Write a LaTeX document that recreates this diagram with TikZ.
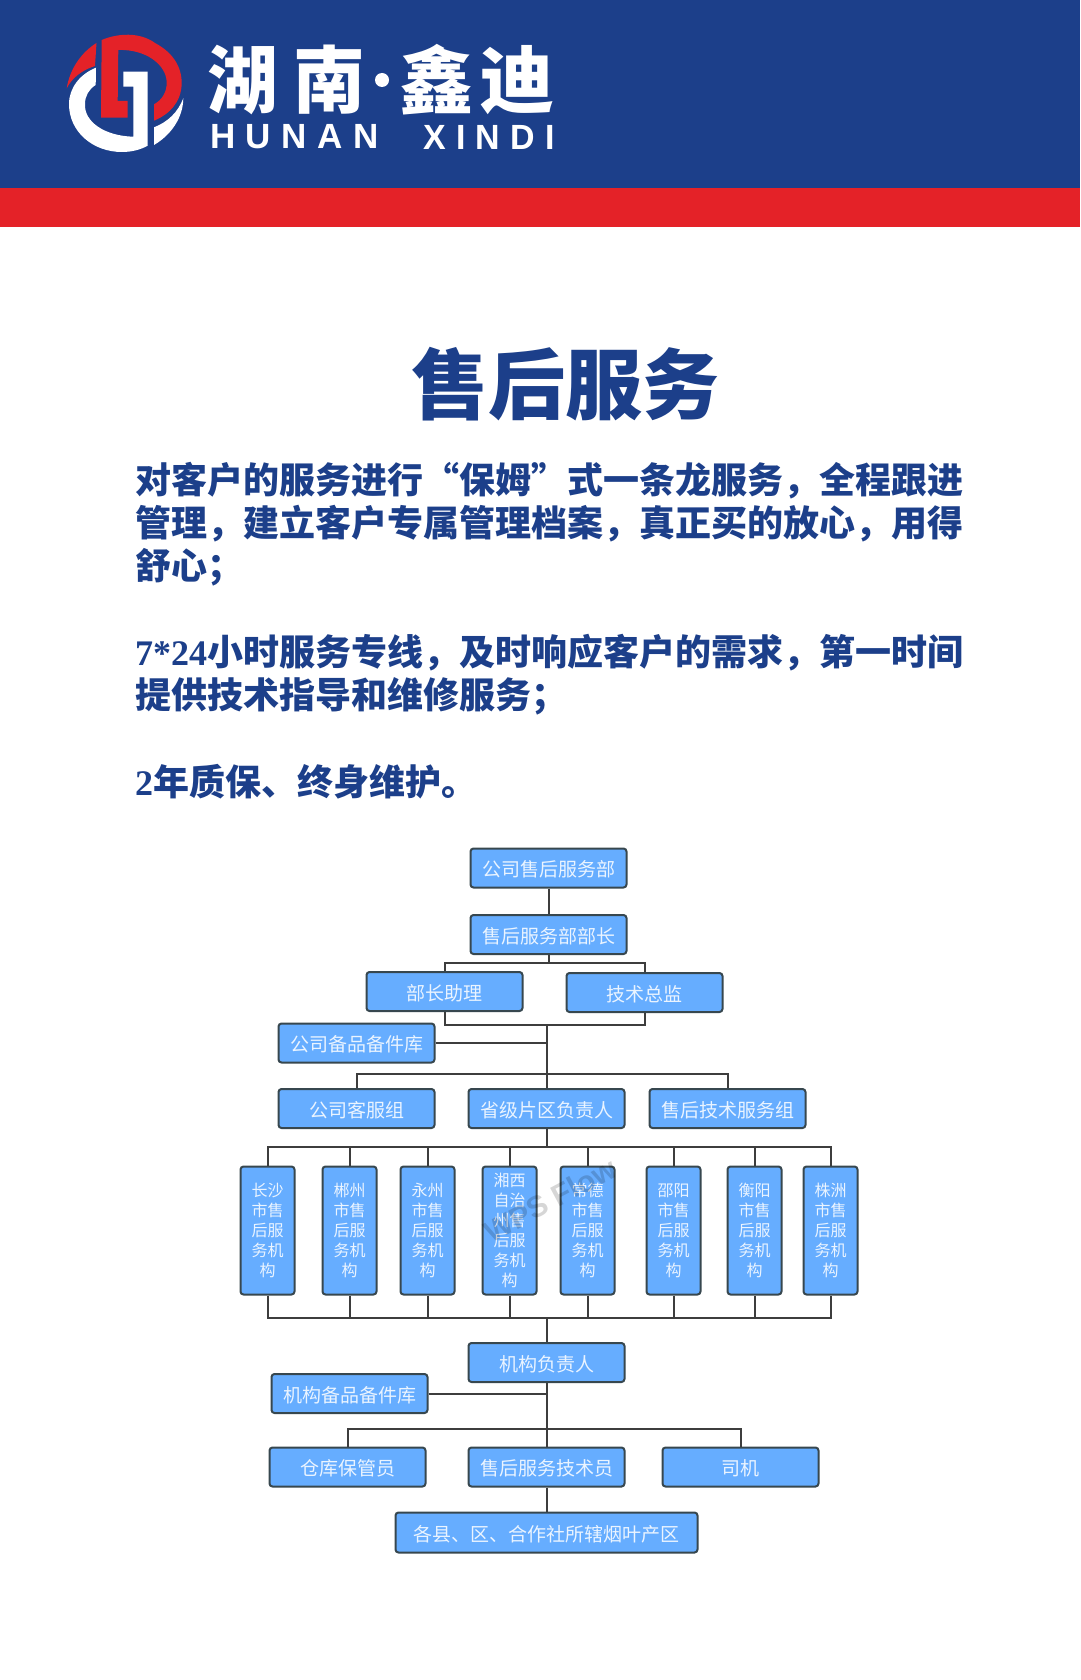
\documentclass[tikz,border=0pt]{standalone}
\usepackage{fontspec}
\newfontfamily\cjk{Noto Sans CJK SC}
\newfontfamily\latinb{Liberation Serif}
\newfontfamily\logolat[LetterSpace=30]{Liberation Sans}
\definecolor{navy}{HTML}{1C3F8A}
\definecolor{bandred}{HTML}{E42228}
\definecolor{boxfill}{HTML}{66ADFF}
\definecolor{boxline}{HTML}{37474F}
\definecolor{linkc}{HTML}{3D3D3D}
\definecolor{boxtext}{HTML}{EAF4FF}
\tikzset{
  orgbase/.style={draw=boxline,line width=2pt,fill=boxfill,rounded corners=3pt,text=boxtext,inner sep=0pt,
    minimum width=156pt,minimum height=39pt},
  orgbox/.style={orgbase,text height=17.4pt,text depth=0pt,font=\cjk\fontsize{19}{22}\selectfont},
  tallbox/.style={orgbase,minimum width=54pt,minimum height=128pt,align=center,font=\cjk\fontsize{16}{20}\selectfont},
  link/.style={draw=linkc,line width=2pt},
  bodyline/.style={anchor=west,inner sep=0pt,text=navy,font=\cjk\bfseries\fontsize{36}{43}\selectfont},
  brandtxt/.style={inner sep=0pt,text=white,font=\cjk\bfseries\fontsize{74}{74}\selectfont},
  brandlat/.style={inner sep=0pt,text=white,anchor=west,font=\logolat\bfseries\fontsize{35}{35}\selectfont}
}
\begin{document}
\begin{tikzpicture}[x=1pt,y=-1pt]
\useasboundingbox (0,0) rectangle (1080,1680);
\fill[white] (0,0) rectangle (1080,1680);
\fill[navy] (0,0) rectangle (1080,188);
\fill[bandred] (0,188) rectangle (1080,227);
% logo
\fill[bandred] (66.7,88.3) .. controls (70,68) and (82,52) .. (96.5,43) -- (95,66) .. controls (82,70) and (72,78) .. (66.7,88.3) -- cycle;
\fill[bandred] (101.7,40) .. controls (118,33) and (140,32) .. (155,43) .. controls (172,52) and (182,66) .. (181.7,84) .. controls (181,102) and (170,114) .. (154,120.7) -- (154,104.3) .. controls (162,100) and (167,92) .. (166.7,82) .. controls (166,64) and (145,49) .. (118.3,50) -- (117.7,101) -- (127.7,101) -- (127.7,117.7) -- (101,117.7) -- cycle;
\fill[white] (96,67.7) .. controls (80,74) and (69,88) .. (69,104) .. controls (69,132) and (93,152) .. (122,152) .. controls (131,152) and (140,150) .. (147.7,145.7) -- (147.7,71.7) -- (123.3,71.7) -- (123.3,86.7) -- (133.3,86.7) -- (133.3,136.7) .. controls (105,136) and (84,122) .. (85,104) .. controls (85,96) and (89,89) .. (95.7,85) -- cycle;
\fill[white] (154,127.3) .. controls (168,122) and (178,112) .. (183.3,98.3) .. controls (183,118) and (171,135) .. (154,145) -- cycle;
% brand
\node[brandtxt,xscale=.95] (b1) at (243,80) {湖};
\node[brandtxt,xscale=.97] (b2) at (329,80) {南};
\fill[white] (382,80) circle (7);
\node[brandtxt,xscale=1] (b3) at (436.5,80) {鑫};
\node[brandtxt,xscale=1.02] (b4) at (517,80) {迪};
\node[brandlat] (h1) at (210,137) {HUNAN};
\node[brandlat,xscale=.97] (h2) at (423,137) {XINDI};
% title and text
\node[inner sep=0pt,text=navy,font=\cjk\bfseries\fontsize{77}{80}\selectfont] (title) at (565.5,384) {售后服务};
\node[bodyline] (l1) at (135,480.5) {对客户的服务进行“保姆”式一条龙服务，全程跟进};
\node[bodyline] (l2) at (135,524) {管理，建立客户专属管理档案，真正买的放心，用得};
\node[bodyline] (l3) at (135,567) {舒心；};
\node[bodyline] (l4) at (135,653) {{\latinb 7*24}小时服务专线，及时响应客户的需求，第一时间};
\node[bodyline] (l5) at (135,696) {提供技术指导和维修服务；};
\node[bodyline] (l6) at (135,782) {{\latinb 2}年质保、终身维护。};
% org chart
\node[orgbox] (dept) at (548.5,868) {公司售后服务部};
\node[orgbox] (head) at (548.5,934.5) {售后服务部部长};
\node[orgbox] (asst) at (444.5,991.5) {部长助理};
\node[orgbox] (tech) at (644.5,992.5) {技术总监};
\node[orgbox] (spare) at (356.5,1043) {公司备品备件库};
\node[orgbox] (svc) at (356.5,1108.5) {公司客服组};
\node[orgbox] (prov) at (546.5,1108.5) {省级片区负责人};
\node[orgbox] (tsvc) at (727.5,1108.5) {售后技术服务组};
\node[tallbox] (c1) at (267.5,1230.5) {长沙\\市售\\后服\\务机\\构};
\node[tallbox] (c2) at (349.5,1230.5) {郴州\\市售\\后服\\务机\\构};
\node[tallbox] (c3) at (427.5,1230.5) {永州\\市售\\后服\\务机\\构};
\node[tallbox] (c4) at (509.5,1230.5) {湘西\\自治\\州售\\后服\\务机\\构};
\node[tallbox] (c5) at (587.5,1230.5) {常德\\市售\\后服\\务机\\构};
\node[tallbox] (c6) at (673.5,1230.5) {邵阳\\市售\\后服\\务机\\构};
\node[tallbox] (c7) at (754.5,1230.5) {衡阳\\市售\\后服\\务机\\构};
\node[tallbox] (c8) at (830.5,1230.5) {株洲\\市售\\后服\\务机\\构};
\node[orgbox] (org) at (546.5,1362.5) {机构负责人};
\node[orgbox] (ospare) at (349.5,1393.5) {机构备品备件库};
\node[orgbox] (keep) at (347.5,1467) {仓库保管员};
\node[orgbox] (techn) at (546.5,1467) {售后服务技术员};
\node[orgbox] (drv) at (740.5,1467) {司机};
\node[orgbox,minimum width=302pt,minimum height=40pt] (area) at (546.5,1532.5) {各县、区、合作社所辖烟叶产区};
% junction coordinates
\coordinate (j1) at (548.5,963);
\coordinate (j2) at (546.5,1024.5);
\coordinate (j3) at (546.5,1074);
\coordinate (j4) at (546.5,1147);
\coordinate (j5) at (546.5,1318);
\coordinate (j6) at (546.5,1429);
% connectors
\draw[link] (dept) -- (head);
\draw[link] (head) -- (j1);
\draw[link] (asst.north) |- (j1) -| (tech.north);
\draw[link] (asst.south) |- (j2) -| (tech.south);
\draw[link] (j2) -- (prov.north);
\draw[link] (spare.east) -- (spare.east -| j2);
\draw[link] (svc.north) |- (j3) -| (tsvc.north);
\draw[link] (prov.south) -- (j4);
\draw[link] (c1.north) |- (j4) -| (c8.north);
\foreach \n in {c2,c3,c4,c5,c6,c7}{\draw[link] (\n.north) -- (\n.north |- j4);}
\draw[link] (c1.south) |- (j5) -| (c8.south);
\foreach \n in {c2,c3,c4,c5,c6,c7}{\draw[link] (\n.south) -- (\n.south |- j5);}
\draw[link] (j5) -- (org.north);
\draw[link] (org.south) -- (techn.north);
\draw[link] (ospare.east) -- (ospare.east -| org.south);
\draw[link] (keep.north) |- (j6) -| (drv.north);
\draw[link] (techn.south) -- (area.north);
% watermark
\node[rotate=28,opacity=.16,text=black,inner sep=0pt,font=\fontspec{Liberation Sans}\bfseries\fontsize{30}{30}\selectfont] (wm) at (550,1200) {WPS Flow};
\end{tikzpicture}
\end{document}
